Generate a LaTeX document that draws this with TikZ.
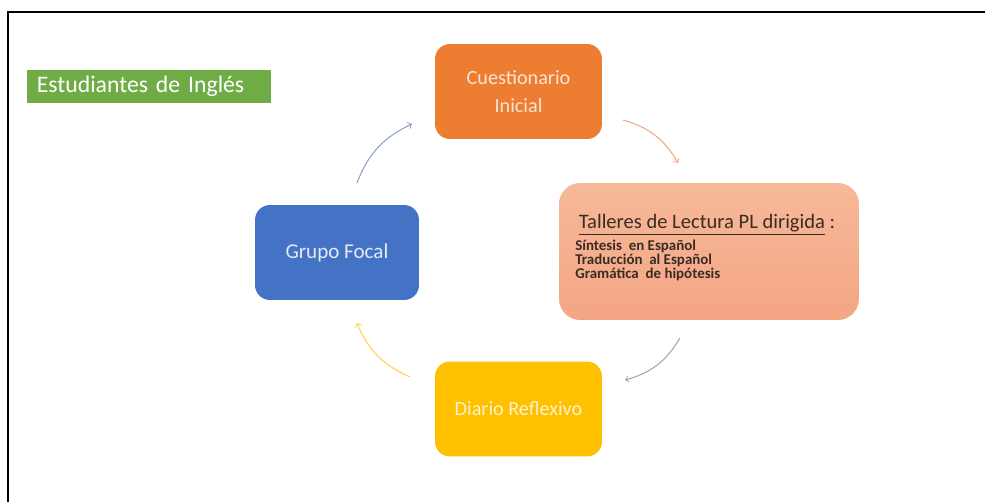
\documentclass[tikz,border=0pt]{standalone}
\usepackage{fontspec}
\setmainfont{Carlito}
\usepackage{tikz}
\definecolor{verde}{HTML}{6FAC46}
\definecolor{naranja}{HTML}{ED7D31}
\definecolor{salmonA}{HTML}{F6B999}
\definecolor{salmonB}{HTML}{F4A584}
\definecolor{azul}{HTML}{4472C4}
\definecolor{amarillo}{HTML}{FFC000}
\definecolor{textoA}{HTML}{FBE5D6}
\definecolor{textoB}{HTML}{FFF2CC}
\definecolor{textoC}{HTML}{E4EBF7}
\definecolor{oscuro}{HTML}{3A2C24}
\definecolor{grisazul}{HTML}{8FA3C8}

\begin{document}
\begin{tikzpicture}[x=0.02cm, y=-0.02cm,
        caja/.style={rounded corners=8.5pt, minimum width=3.34cm, minimum height=1.9cm, align=center, font=\fontsize{11.5}{16}\selectfont},
        flecha/.style={->, line width=0.6pt, bend left=22}]
        \useasboundingbox (0,0) rectangle (985,502);
        \draw [black, line width=1.2pt] (8,502) -- (8,12) -- (985,12);

        \node [fill=verde, text=white, anchor=west, minimum width=4.88cm, minimum height=0.66cm, text width=4.5cm, inner xsep=0.19cm, align=left, font=\fontsize{13.5}{16}\selectfont] (est) at (27,86.5) {Estudiantes de Inglés};

        \node [caja, fill=naranja, text=textoA] (ci) at (518.5,91.5) {Cuestionario\\Inicial};
        \node [caja, fill=azul, text=textoC, minimum width=3.28cm, font=\fontsize{12}{16}\selectfont] (gf) at (337,252.5) {Grupo Focal};
        \node [caja, fill=amarillo, text=textoB] (dr) at (518.5,409) {Diario Reflexivo};
        \node [rounded corners=12pt, top color=salmonA, bottom color=salmonB, minimum width=6cm, minimum height=2.74cm] (tl) at (709,251.5) {};

        \node [text=oscuro, font=\fontsize{11.7}{14}\selectfont] (tit) at (707,225) {\underline{Talleres de Lectura PL dirigida}~:};
        \node [text=oscuro, anchor=west, align=left, inner sep=0pt, font=\bfseries\fontsize{8.5}{8}\selectfont] (lst) at (575,260) {Síntesis \ en Español\\Traducción \ al Español\\Gramática \ de hipótesis};

        \coordinate (a1) at (623,120);
        \coordinate (b1) at (678,163);
        \coordinate (a2) at (680,338);
        \coordinate (b2) at (625,380);
        \coordinate (a3) at (410,377);
        \coordinate (b3) at (357,323);
        \coordinate (a4) at (357,183);
        \coordinate (b4) at (412,124);
        \draw [flecha, color=salmonB] (a1) to (b1);
        \draw [flecha, color=black!35] (a2) to (b2);
        \draw [flecha, color=amarillo!70] (a3) to (b3);
        \draw [flecha, color=grisazul] (a4) to (b4);
    \end{tikzpicture}
\end{document}
